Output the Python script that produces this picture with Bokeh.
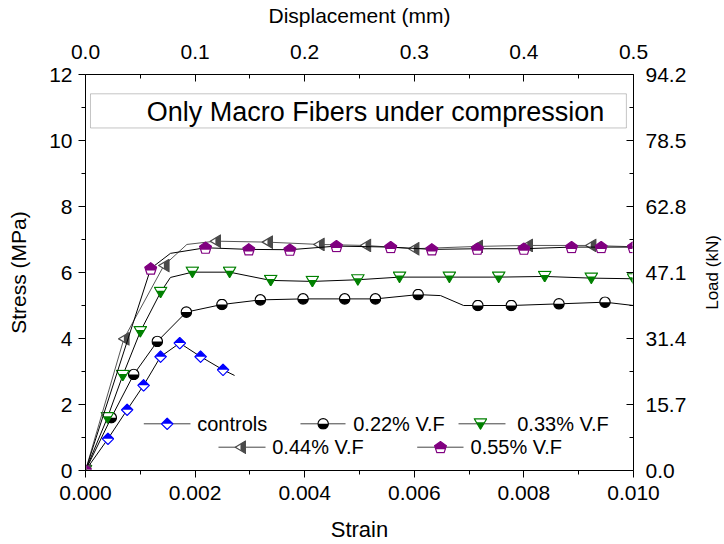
import math
import base64
from bokeh.plotting import figure
from bokeh.layouts import row
from bokeh.models import (Range1d, LinearAxis, FixedTicker, PrintfTickFormatter,
                          BoxAnnotation, Label, ColumnDataSource)
from bokeh.core.properties import value
from bokeh.embed import file_html
from bokeh.resources import INLINE

# ---------------- data ----------------
strain_ticks = [0.000, 0.002, 0.004, 0.006, 0.008, 0.010]
strain_minor = [0.001, 0.003, 0.005, 0.007, 0.009]
stress_ticks = [0, 2, 4, 6, 8, 10, 12]
stress_minor = [1, 3, 5, 7, 9, 11]
disp_ticks = [0.0, 0.1, 0.2, 0.3, 0.4, 0.5]
disp_minor = [0.05, 0.15, 0.25, 0.35, 0.45]
load_ticks = [0.0, 15.7, 31.4, 47.1, 62.8, 78.5, 94.2]
load_minor = [7.85, 23.55, 39.25, 54.95, 70.65, 86.35]

ctrl_strain = [0, 0.00041, 0.00076, 0.00106, 0.00137, 0.00172, 0.00210, 0.00251, 0.00272]
ctrl_stress = [0, 0.96, 1.84, 2.58, 3.45, 3.86, 3.45, 3.05, 2.88]
ctrl_marked = [1, 1, 1, 1, 1, 1, 1, 1, 0]

vf22_strain = [0, 0.00047, 0.00088, 0.00131, 0.00184, 0.00249, 0.00319, 0.00397, 0.00473,
               0.00529, 0.00607, 0.00648, 0.00690, 0.00716, 0.00777, 0.00864, 0.00948, 0.01000]
vf22_stress = [0, 1.60, 2.91, 3.91, 4.80, 5.03, 5.17, 5.20, 5.20,
               5.20, 5.33, 5.30, 5.00, 5.00, 5.00, 5.05, 5.10, 5.00]
vf22_marked = [1, 1, 1, 1, 1, 1, 1, 1, 1, 1, 1, 0, 0, 1, 1, 1, 1, 0]

vf33_strain = [0, 0.00040, 0.00068, 0.00100, 0.00137, 0.00155, 0.00195, 0.00263, 0.00338,
               0.00414, 0.00497, 0.00573, 0.00664, 0.00754, 0.00838, 0.00923, 0.01000]
vf33_stress = [0, 1.60, 2.88, 4.21, 5.40, 5.85, 6.01, 6.01, 5.76,
               5.73, 5.78, 5.86, 5.86, 5.86, 5.88, 5.83, 5.81]
vf33_marked = [1, 1, 1, 1, 1, 0, 1, 1, 1, 1, 1, 1, 1, 1, 1, 1, 1]

vf44_strain = [0, 0.00070, 0.00143, 0.00185, 0.00237, 0.00332, 0.00426, 0.00511, 0.00599,
               0.00715, 0.00806, 0.00922, 0.01000]
vf44_stress = [0, 3.99, 6.21, 6.85, 6.95, 6.92, 6.85, 6.82, 6.72,
               6.79, 6.82, 6.82, 6.78]
vf44_marked = [1, 1, 1, 0, 1, 1, 1, 1, 1, 1, 1, 1, 0]

vf55_strain = [0, 0.00119, 0.00155, 0.00219, 0.00298, 0.00373, 0.00458, 0.00557, 0.00632,
               0.00715, 0.00800, 0.00887, 0.00941, 0.01000]
vf55_stress = [0, 6.12, 6.58, 6.75, 6.70, 6.69, 6.80, 6.77, 6.70,
               6.72, 6.72, 6.77, 6.77, 6.77]
vf55_marked = [1, 1, 0, 1, 1, 1, 1, 1, 1, 1, 1, 1, 1, 1]

series_names = ["controls", "0.22% V.F", "0.33% V.F", "0.44% V.F", "0.55% V.F"]
title_text = "Only Macro Fibers under compression"

FONT = "Liberation Sans"

# ---------------- half-filled Origin-style markers ----------------
def svg_uri(body, w, h):
    svg = ('<svg xmlns="http://www.w3.org/2000/svg" width="%d" height="%d" '
           'viewBox="0 0 %d %d">%s</svg>' % (w, h, w, h, body))
    return "data:image/svg+xml;base64," + base64.b64encode(svg.encode()).decode()

BLUE, BLACK, GREEN, GREY, PURPLE = "#0000FF", "#000000", "#008000", "#4a4a4a", "#800080"

m_diamond = (svg_uri(
    '<polygon points="6.5,0.8 12.2,6.5 6.5,12.2 0.8,6.5" fill="white" stroke="%s" stroke-width="1.2"/>'
    '<polygon points="6.5,0.8 12.2,6.5 0.8,6.5" fill="%s"/>' % (BLUE, BLUE), 13, 13), 13, 13)
m_circle = (svg_uri(
    '<circle cx="6" cy="6" r="5.2" fill="white" stroke="%s" stroke-width="1.2"/>'
    '<path d="M0.8,6 A5.2,5.2 0 0 0 11.2,6 Z" fill="%s"/>' % (BLACK, BLACK), 12, 12), 12, 12)
m_tridown = (svg_uri(
    '<polygon points="0.8,1 13.2,1 7,11.5" fill="white" stroke="%s" stroke-width="1.2"/>'
    '<polygon points="2.87,4.5 11.13,4.5 7,11.5" fill="%s"/>' % (GREEN, GREEN), 14, 12), 14, 12)
m_trileft = (svg_uri(
    '<polygon points="0.8,7 11.2,0.8 11.2,13.2" fill="white" stroke="%s" stroke-width="1.2"/>'
    '<polygon points="6,3.9 11.2,0.8 11.2,13.2 6,10.1" fill="%s"/>' % (GREY, GREY), 12, 14), 12, 14)
m_penta = (svg_uri(
    '<polygon points="7,0.8 12.9,5.08 10.64,12.02 3.36,12.02 1.1,5.08" fill="white" stroke="%s" stroke-width="1.2"/>'
    '<polygon points="7,0.8 12.9,5.08 11.79,8.5 2.21,8.5 1.1,5.08" fill="%s"/>' % (PURPLE, PURPLE), 14, 13), 14, 13)

# ---------------- main figure ----------------
p = figure(width=700, height=544,
           x_range=Range1d(0, 0.010), y_range=Range1d(0, 12),
           output_backend="svg", toolbar_location=None,
           min_border_left=85, min_border_right=67, min_border_top=74, min_border_bottom=74,
           x_axis_label="Strain", y_axis_label="Stress (MPa)")
p.extra_x_ranges = {"disp": Range1d(0, 0.5)}
p.extra_y_ranges = {"load": Range1d(0, 94.2)}
p.xgrid.visible = False
p.ygrid.visible = False
p.outline_line_color = None
p.background_fill_color = "white"
p.border_fill_color = "white"

def style_axis(ax, tick_in, tick_out, minor_in, minor_out, lab_standoff, ax_standoff,
               tick_size, label_size):
    ax.axis_line_color = "black"
    ax.axis_line_width = 1
    ax.major_tick_line_color = "black"
    ax.minor_tick_line_color = "black"
    ax.major_tick_in = tick_in
    ax.major_tick_out = tick_out
    ax.minor_tick_in = minor_in
    ax.minor_tick_out = minor_out
    ax.major_label_standoff = lab_standoff
    ax.axis_label_standoff = ax_standoff
    ax.major_label_text_font = FONT
    ax.major_label_text_font_size = tick_size
    ax.major_label_text_color = "black"
    ax.axis_label_text_font = FONT
    ax.axis_label_text_font_size = label_size
    ax.axis_label_text_font_style = "normal"
    ax.axis_label_text_color = "black"

bottom = p.below[0]
bottom.ticker = FixedTicker(ticks=strain_ticks, minor_ticks=strain_minor)
bottom.formatter = PrintfTickFormatter(format="%.3f")
style_axis(bottom, 0, 7, 0, 4, 8, 14, "21px", "22px")

left = p.left[0]
left.ticker = FixedTicker(ticks=stress_ticks, minor_ticks=stress_minor)
style_axis(left, 0, 7, 0, 4, 6, 16, "21px", "21px")

top = LinearAxis(x_range_name="disp", axis_label="Displacement (mm)",
                 ticker=FixedTicker(ticks=disp_ticks, minor_ticks=disp_minor),
                 formatter=PrintfTickFormatter(format="%.1f"))
style_axis(top, 7, 0, 4, 0, 16, 15, "21px", "21px")
p.add_layout(top, "above")

right = LinearAxis(y_range_name="load",
                   ticker=FixedTicker(ticks=load_ticks, minor_ticks=load_minor),
                   formatter=PrintfTickFormatter(format="%.1f"))
style_axis(right, 7, 0, 4, 0, 12, 10, "21px", "18px")
p.add_layout(right, "right")

# ---------------- series ----------------
series = [
    (ctrl_strain, ctrl_stress, ctrl_marked, m_diamond, "black"),
    (vf22_strain, vf22_stress, vf22_marked, m_circle, "black"),
    (vf33_strain, vf33_stress, vf33_marked, m_tridown, "black"),
    (vf44_strain, vf44_stress, vf44_marked, m_trileft, "#555555"),
    (vf55_strain, vf55_stress, vf55_marked, m_penta, "black"),
]

for xs, ys, marked, (uri, mw, mh), lcol in series:
    p.line(xs, ys, line_color=lcol, line_width=1)
    mx = [x for x, m in zip(xs, marked) if m]
    my = [y for y, m in zip(ys, marked) if m]
    src = ColumnDataSource(dict(x=mx, y=my, url=[uri] * len(mx)))
    p.image_url(url="url", x="x", y="y", w=mw, h=mh, w_units="screen", h_units="screen",
                anchor="center", source=src)

# ---------------- legend (Origin style, two rows) ----------------
leg_y = [1.415, 1.415, 1.415, 0.706, 0.706]
leg_x0 = [0.001064, 0.003923, 0.006807, 0.002427, 0.006053]
leg_x1 = [0.001916, 0.004745, 0.007664, 0.003285, 0.006898]
leg_xm = [0.001491, 0.004337, 0.007208, 0.002828, 0.006478]
leg_xt = [0.002038, 0.004885, 0.007878, 0.003407, 0.007026]
for i, (xs, ys, marked, (uri, mw, mh), lcol) in enumerate(series):
    p.line([leg_x0[i], leg_x1[i]], [leg_y[i], leg_y[i]], line_color="#444444", line_width=1)
    p.image_url(url=[uri], x=[leg_xm[i]], y=[leg_y[i]], w=mw, h=mh,
                w_units="screen", h_units="screen", anchor="center")
p.text(x=leg_xt, y=leg_y, text=series_names, text_font=value(FONT), text_font_size="20px",
       text_baseline="middle", text_align="left", text_color="black")

# ---------------- title box ----------------
p.add_layout(BoxAnnotation(left=0.0000912, right=0.00987, bottom=10.38, top=11.415,
                           fill_color="white", fill_alpha=1.0,
                           line_color="#404040", line_width=1, level="underlay"))
p.add_layout(Label(x=0.005292, y=10.86, text=title_text, text_align="center",
                   text_baseline="middle", text_font=FONT, text_font_size="27px",
                   text_color="black"))

# ---------------- right-hand strip carrying the "Load (kN)" title (reads bottom-to-top) ----
side = figure(width=24, height=544, x_range=Range1d(0, 1), y_range=Range1d(0, 1),
              output_backend="svg", toolbar_location=None,
              x_axis_location=None, y_axis_location=None,
              min_border=0, min_border_left=0, min_border_right=0,
              min_border_top=0, min_border_bottom=0)
side.xgrid.visible = False
side.ygrid.visible = False
side.outline_line_color = None
side.background_fill_color = "white"
side.border_fill_color = "white"
side.text(x=[0.5], y=[0.5], text=["Load (kN)"], angle=math.pi / 2,
          text_align="center", text_baseline="middle", text_font=value(FONT),
          text_font_size="17px", text_color="black")

layout = row(p, side, spacing=0)
open("out.html", "w").write(file_html(layout, INLINE))
